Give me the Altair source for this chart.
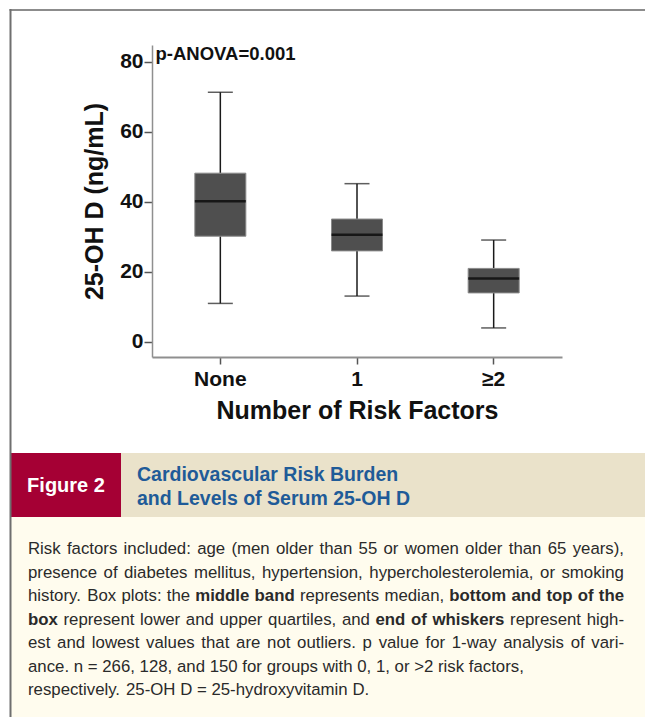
import altair as alt
import pandas as pd

# Box-plot summary of serum 25-OH D (ng/mL) by number of cardiovascular risk factors
groups = ["None", "1", "≥2"]
whisker_low = [11.0, 13.1, 4.0]
q1 = [30.2, 26.0, 14.0]
median = [40.2, 30.6, 18.1]
q3 = [48.2, 35.1, 21.0]
whisker_high = [71.3, 45.2, 29.1]

y_ticks = [0, 20, 40, 60, 80]
p_label = "p-ANOVA=0.001"

fig_label = "Figure 2"
fig_title = ["Cardiovascular Risk Burden", "and Levels of Serum 25-OH D"]

# caption: each line is a list of (text, bold) runs, plus whether it is justified
caption_lines = [
    ([("Risk factors included: age (men older than 55 or women older than 65 years),", False)], True),
    ([("presence of diabetes mellitus, hypertension, hypercholesterolemia, or smoking", False)], True),
    ([("history. Box plots: the", False), ("middle band", True),
      ("represents median,", False), ("bottom and top of the", True)], True),
    ([("box", True), ("represent lower and upper quartiles, and", False),
      ("end of whiskers", True), ("represent high-", False)], True),
    ([("est and lowest values that are not outliers. p value for 1-way analysis of vari-", False)], True),
    ([("ance. n = 266, 128, and 150 for groups with 0, 1, or >2 risk factors,", False)], False),
    ([("respectively. 25-OH D = 25-hydroxyvitamin D.", False)], False),
]

W, H = 410, 312          # plot area
LEFT, TOP = 152, 45      # plot origin on the page
PAGE_W, PAGE_H = 645, 717

CAP_FONT = 16.8
CAP_X0, CAP_X1 = 28, 624
CAP_Y0, CAP_DY = 554, 23.5

def px(x):
    return x - LEFT

def py(y):
    return y - TOP

# Arial / Liberation Sans advance widths (1/1000 em)
_reg = dict(zip(" !(),-./:=>", [278, 278, 333, 333, 278, 333, 278, 278, 278, 584, 584]))
_reg.update({d: 556 for d in "0123456789"})
_reg.update(dict(zip("ABCDEFGHIJKLMNOPQRSTUVWXYZ",
                     [667, 667, 722, 722, 667, 611, 778, 722, 278, 500, 667, 556, 833,
                      722, 778, 667, 778, 722, 667, 611, 722, 667, 944, 667, 667, 611])))
_reg.update(dict(zip("abcdefghijklmnopqrstuvwxyz",
                     [556, 556, 500, 556, 556, 278, 556, 556, 222, 222, 500, 222, 833,
                      556, 556, 556, 556, 333, 500, 278, 556, 500, 722, 500, 500, 500])))
_bold = dict(_reg)
_bold.update(dict(zip("abcdefghijklmnopqrstuvwxyz",
                      [556, 611, 556, 611, 556, 333, 611, 611, 278, 278, 556, 278, 889,
                       611, 611, 611, 611, 389, 556, 333, 611, 556, 778, 556, 556, 500])))


def text_width(s, bold, size):
    table = _bold if bold else _reg
    return sum(table.get(c, 556) for c in s) * size / 1000.0


# lay caption words out on their lines, spreading justified lines to the margin
words = []
for i, (runs, justified) in enumerate(caption_lines):
    items = [(w, b) for text, b in runs for w in text.split(" ") if w]
    widths = [text_width(w, b, CAP_FONT) for w, b in items]
    space = text_width(" ", False, CAP_FONT)
    natural = sum(widths) + space * (len(items) - 1)
    gap = space
    if justified and len(items) > 1:
        gap = space + (CAP_X1 - CAP_X0 - natural) / (len(items) - 1)
    x = CAP_X0
    for (w, b), wd in zip(items, widths):
        words.append({"word": w, "bold": b, "x": px(x), "y": py(CAP_Y0 + i * CAP_DY)})
        x += wd + gap
words_df = pd.DataFrame(words)

box_df = pd.DataFrame({
    "group": groups, "low": whisker_low, "q1": q1,
    "median": median, "q3": q3, "high": whisker_high,
})

one = pd.DataFrame({"k": [0]})

x_enc = alt.X(
    "group:N", sort=groups,
    scale=alt.Scale(paddingInner=0, paddingOuter=0),
    axis=alt.Axis(
        title="Number of Risk Factors", labelAngle=0,
        labelFont="Liberation Sans", labelFontWeight="bold", labelFontSize=21,
        labelColor="#111", labelPadding=4,
        titleFont="Liberation Sans", titleFontWeight="bold", titleFontSize=25,
        titleColor="#111", titlePadding=9,
        domainColor="#8f8f8f", domainWidth=2, tickColor="#555", tickSize=7,
        tickWidth=1.5,
    ),
)
y_scale = alt.Scale(domain=[-4.3, 84.8], nice=False, zero=False)
y_axis = alt.Axis(
    title="25-OH D (ng/mL)", values=y_ticks, grid=False,
    labelFont="Liberation Sans", labelFontWeight="bold", labelFontSize=21,
    labelColor="#111", labelPadding=1,
    titleFont="Liberation Sans", titleFontWeight="bold", titleFontSize=25,
    titleColor="#111", titlePadding=12,
    domainColor="#8f8f8f", domainWidth=1.5, tickColor="#555", tickSize=8,
    tickWidth=1.5,
)

base = alt.Chart(box_df)

whisker_up = base.mark_rule(color="#1a1a1a", strokeWidth=1.5).encode(
    x=x_enc, y=alt.Y("q3:Q", scale=y_scale, axis=y_axis), y2="high:Q")
whisker_dn = base.mark_rule(color="#1a1a1a", strokeWidth=1.5).encode(
    x=alt.X("group:N", sort=groups), y=alt.Y("low:Q"), y2="q1:Q")
cap_hi = base.mark_tick(color="#1a1a1a", size=25, thickness=1.5).encode(
    x=alt.X("group:N", sort=groups), y="high:Q")
cap_lo = base.mark_tick(color="#1a1a1a", size=25, thickness=1.5).encode(
    x=alt.X("group:N", sort=groups), y="low:Q")
box = base.mark_bar(size=51, color="#4f4f4f", stroke="#8a8a8a", strokeWidth=1).encode(
    x=alt.X("group:N", sort=groups), y="q1:Q", y2="q3:Q")
med = base.mark_tick(color="#000000", size=51, thickness=2.5).encode(
    x=alt.X("group:N", sort=groups), y="median:Q")

p_text = alt.Chart(one).mark_text(
    text=p_label, font="Liberation Sans", fontWeight="bold", fontSize=18.5,
    align="left", baseline="alphabetic", color="#111",
).encode(x=alt.value(px(155.5)), y=alt.value(py(59.5)))

# page decoration: frame, header band, caption panel
def rect(x0, x1, y0, y1, color):
    return alt.Chart(one).mark_rect(color=color).encode(
        x=alt.value(px(x0)), x2=alt.value(px(x1)),
        y=alt.value(py(y0)), y2=alt.value(py(y1)))

cream = rect(11, PAGE_W, 517, PAGE_H, "#FFFCEE")
beige = rect(11, PAGE_W, 453, 517, "#EAE2CA")
red = rect(11, 121, 453, 517, "#A50034")

frame_top = alt.Chart(one).mark_rule(color="#8c8c8c", strokeWidth=2).encode(
    x=alt.value(px(9.5)), x2=alt.value(px(PAGE_W)), y=alt.value(py(10)))
frame_left = alt.Chart(one).mark_rule(color="#6f6f6f", strokeWidth=2).encode(
    x=alt.value(px(10.5)), y=alt.value(py(9)), y2=alt.value(py(PAGE_H)))

fig_text = alt.Chart(one).mark_text(
    text=fig_label, font="Liberation Sans", fontWeight="bold", fontSize=20,
    align="center", baseline="middle", color="#ffffff",
).encode(x=alt.value(px(66)), y=alt.value(py(486)))

title_layers = []
for i, line in enumerate(fig_title):
    title_layers.append(alt.Chart(one).mark_text(
        text=line, font="Liberation Sans", fontWeight="bold", fontSize=19.5,
        align="left", baseline="alphabetic", color="#1f5b98",
    ).encode(x=alt.value(px(137)), y=alt.value(py(481 + i * 23.5))))

caption_layers = []
for bold in (False, True):
    caption_layers.append(
        alt.Chart(words_df).transform_filter(
            alt.datum.bold if bold else ~alt.datum.bold
        ).mark_text(
            font="Liberation Sans", fontWeight="bold" if bold else "normal",
            fontSize=CAP_FONT, align="left", baseline="alphabetic", color="#2a2a2a",
        ).encode(
            x=alt.X("x:Q", scale=None, axis=None),
            y=alt.Y("y:Q", scale=None, axis=None),
            text="word:N",
        )
    )

chart = alt.layer(
    cream, beige, red, frame_top, frame_left,
    whisker_up, whisker_dn, cap_hi, cap_lo, box, med, p_text,
    fig_text, *title_layers, *caption_layers,
).properties(
    width=W, height=H,
    padding={"left": LEFT, "top": TOP, "right": PAGE_W - LEFT - W, "bottom": PAGE_H - TOP - H},
    autosize=alt.AutoSizeParams(type="none"),
    background="#ffffff",
).configure_view(stroke=None)

chart.save("out.html", embed_options={"renderer": "svg", "actions": False})
